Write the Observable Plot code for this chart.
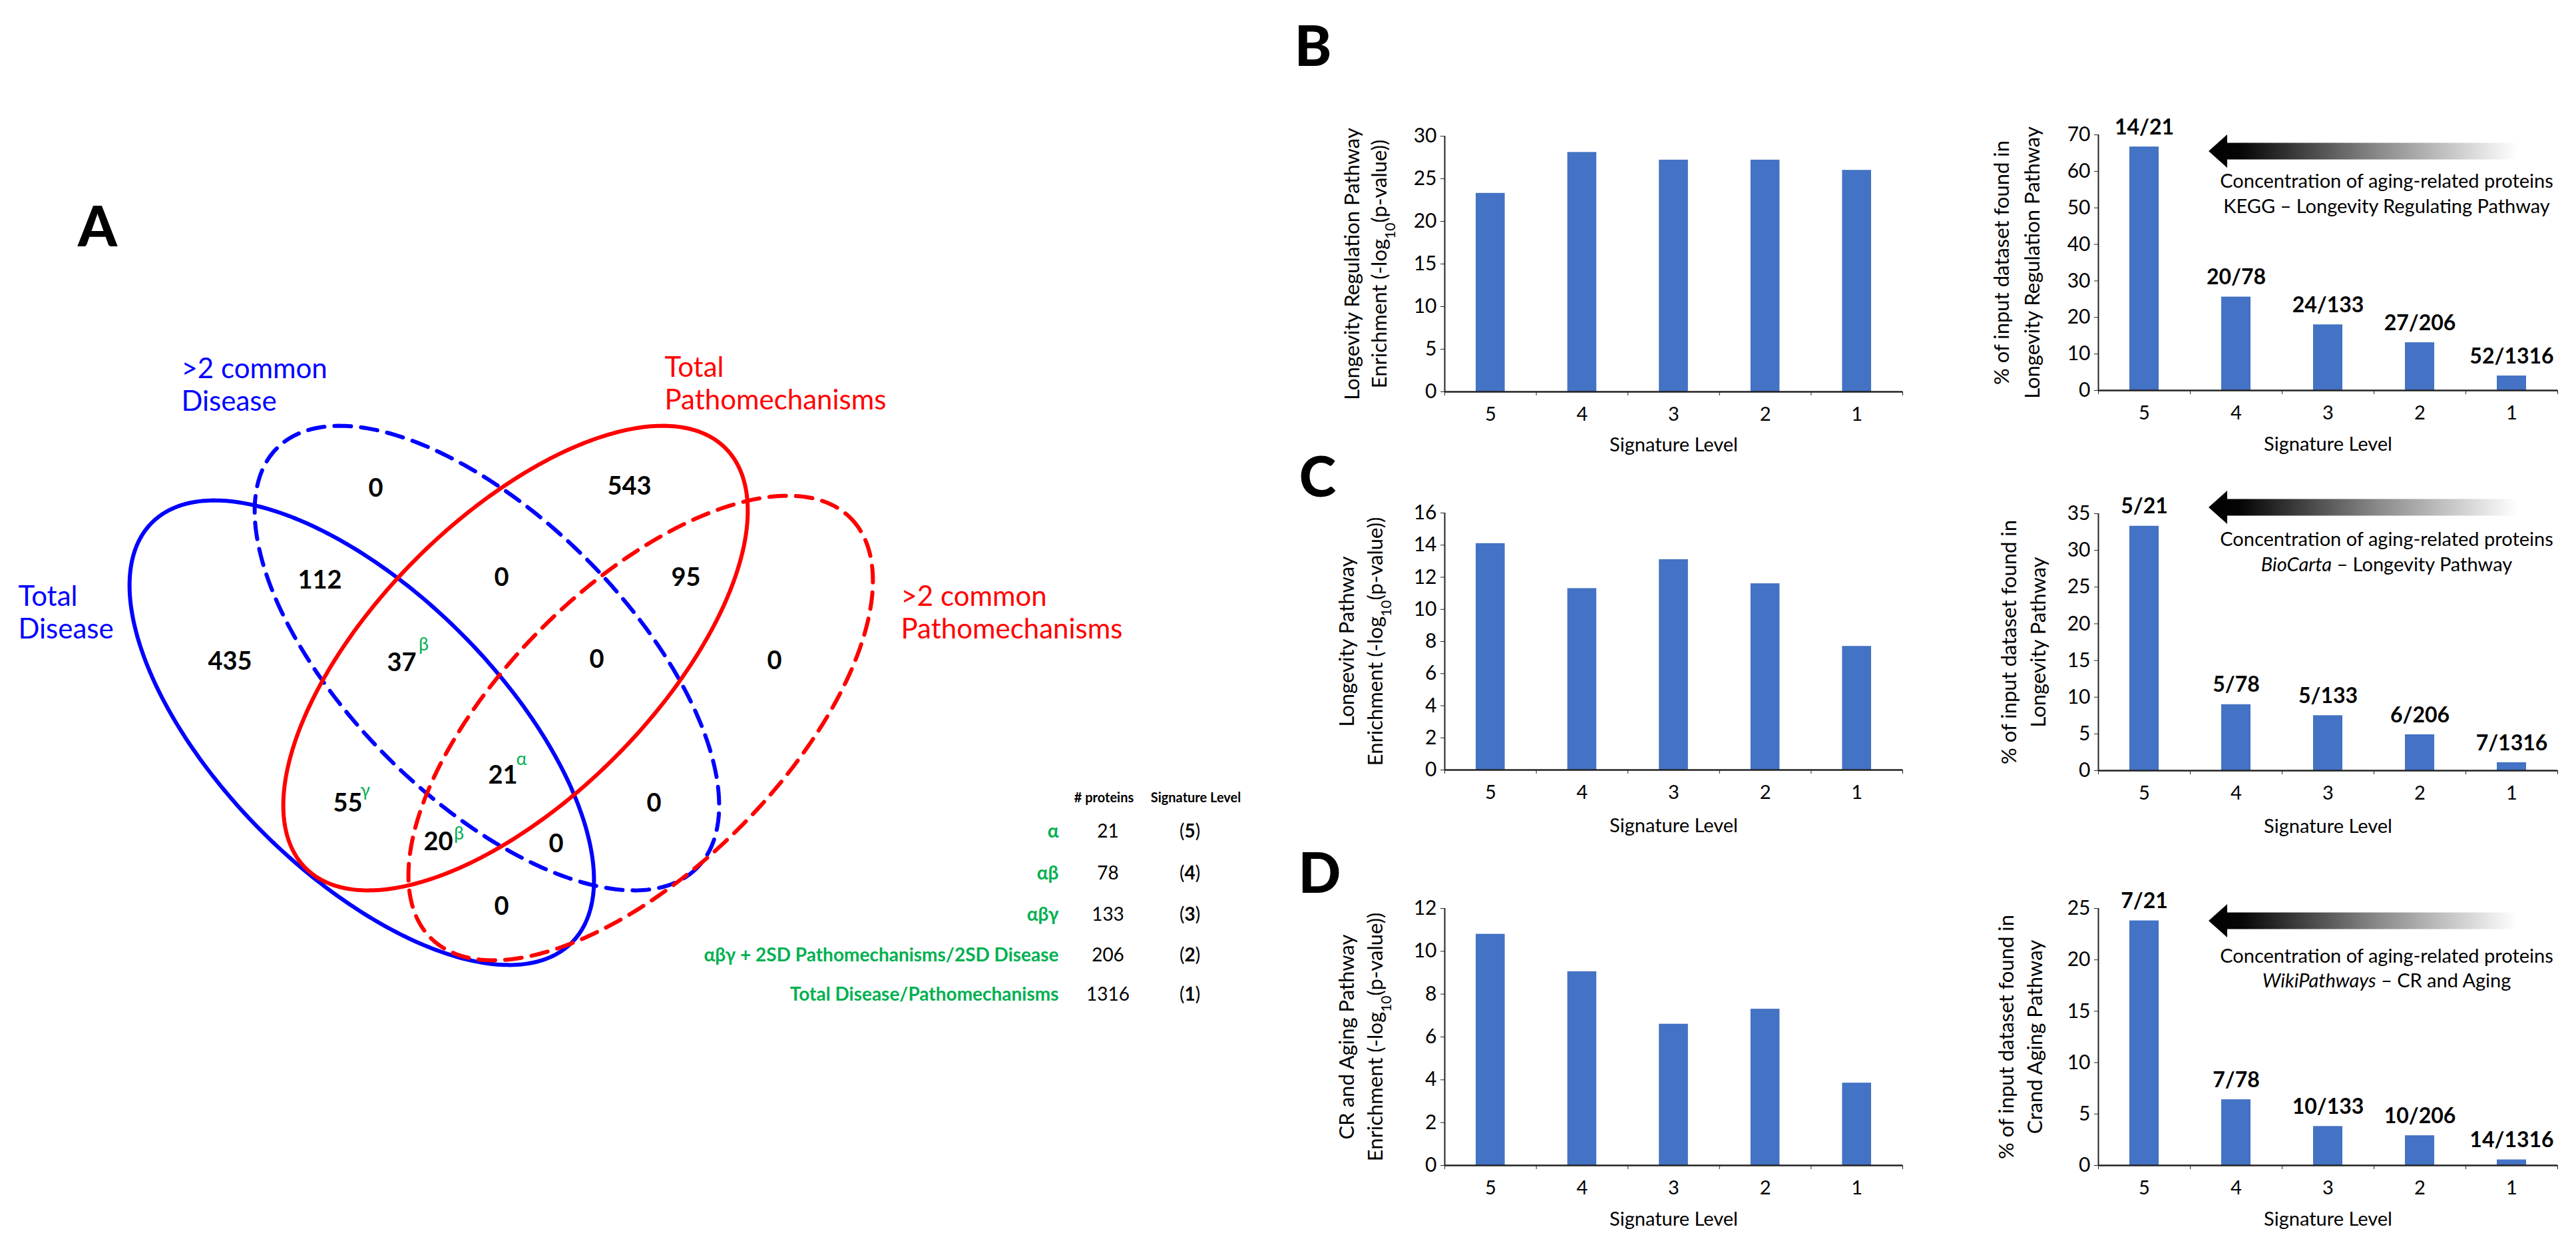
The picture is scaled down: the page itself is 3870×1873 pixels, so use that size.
<!DOCTYPE html>
<html><head><meta charset="utf-8">
<script src="https://cdn.jsdelivr.net/npm/d3@7"></script>
<script src="https://cdn.jsdelivr.net/npm/@observablehq/plot@0.6"></script>
<style>
html,body{margin:0;padding:0;background:#fff;}
#fig{position:relative;width:3870px;height:1873px;overflow:hidden;background:#fff;}
.panel{position:absolute;}
.panel svg{display:block;overflow:visible;}
</style></head><body><div id="fig"></div>
<script>
// ---------------- DATA ----------------
const levels = ["5", "4", "3", "2", "1"];

const bLeft = [23.3, 28.1, 27.2, 27.2, 26.0];
const bRight = [66.7, 25.6, 18.0, 13.1, 4.0];
const bRightLabels = ["14/21", "20/78", "24/133", "27/206", "52/1316"];

const cLeft = [14.1, 11.3, 13.1, 11.6, 7.7];
const cRight = [33.3, 9.0, 7.5, 4.9, 1.1];
const cRightLabels = ["5/21", "5/78", "5/133", "6/206", "7/1316"];

const dLeft = [10.8, 9.05, 6.6, 7.3, 3.85];
const dRight = [23.8, 6.4, 3.8, 2.9, 0.55];
const dRightLabels = ["7/21", "7/78", "10/133", "10/206", "14/1316"];

const bLeftTicks = [0, 5, 10, 15, 20, 25, 30];
const bRightTicks = [0, 10, 20, 30, 40, 50, 60, 70];
const cLeftTicks = [0, 2, 4, 6, 8, 10, 12, 14, 16];
const cRightTicks = [0, 5, 10, 15, 20, 25, 30, 35];
const dLeftTicks = [0, 2, 4, 6, 8, 10, 12];
const dRightTicks = [0, 5, 10, 15, 20, 25];

const bLeftTitle = ["Longevity Regulation Pathway", "Enrichment (-log10(p-value))"];
const bRightTitle = ["% of input dataset found in", "Longevity Regulation Pathway"];
const cLeftTitle = ["Longevity Pathway", "Enrichment (-log10(p-value))"];
const cRightTitle = ["% of input dataset found in", "Longevity Pathway"];
const dLeftTitle = ["CR and Aging Pathway", "Enrichment (-log10(p-value))"];
const dRightTitle = ["% of input dataset found in", "Crand Aging Pathway"];
const xTitle = "Signature Level";

const arrowCaption = "Concentration of aging-related proteins";
const pathwaySources = ["KEGG – Longevity Regulating Pathway", "BioCarta – Longevity Pathway", "WikiPathways – CR and Aging"];

// Venn
const vennSetNames = [["Total", "Disease"], [">2 common", "Disease"], ["Total", "Pathomechanisms"], [">2 common", "Pathomechanisms"]];
const vennCounts = [0, 543, 112, 0, 95, 435, 37, 0, 0, 21, 55, 0, 20, 0, 0];
const vennTags = ["", "", "", "", "", "", "β", "", "", "α", "γ", "", "β", "", ""];

// Legend table
const legendHeaders = ["# proteins", "Signature Level"];
const legendLabels = ["α", "αβ", "αβγ", "αβγ + 2SD Pathomechanisms/2SD Disease", "Total Disease/Pathomechanisms"];
const legendCounts = [21, 78, 133, 206, 1316];
const legendLevels = [5, 4, 3, 2, 1];

const panelLetters = ["A", "B", "C", "D"];

// ---------------- LAYOUT ----------------
const BLUE = "#0000ff", RED = "#ff0000", GREEN = "#00b050", BAR = "#4472C4", AX = "#222222";
const FONT = "Lato, 'Open Sans', sans-serif";
const ELL_A = 446, ELL_B = 211;
const vennEllipses = [
  {cx: 543, cy: 1100, angle: 45, color: BLUE, dash: null},
  {cx: 731, cy: 988, angle: 45, color: BLUE, dash: "25,15"},
  {cx: 774, cy: 988, angle: -45, color: RED, dash: null},
  {cx: 962, cy: 1093, angle: -45, color: RED, dash: "25,15"}
];
const vennCountPos = [[564,733],[945,730],[480,871],[753,867],[1030,867],[345,993],[603,995],[896,990],[1163,992],[755,1164],[522,1206],[982,1206],[658,1264],[835,1267],[753,1361]];
const vennTagPos = [null,null,null,null,null,null,[636,968],null,null,[783,1140],[548,1187],null,[689,1252],null,null];
const vennSetLabelPos = [[27,896],[272,554],[998,552],[1353,896]];
const letterPos = [[146,343],[1972,72],[1979,719],[1982,1314]];
const legendRowY = [1249, 1312, 1374, 1435, 1494];

// ---------------- HELPERS ----------------
const fig = document.getElementById("fig");
function esc(s) { return s.replace(/&/g,"&amp;").replace(/</g,"&lt;").replace(/>/g,"&gt;"); }
function enrich(svg) {
  svg.querySelectorAll("text").forEach(el => {
    if (el.children.length) return;
    const t = el.textContent;
    let h = null;
    if (t.includes("log10")) h = esc(t).replace("log10", 'log<tspan baseline-shift="sub" font-size="68%">10</tspan>');
    else if (/^\(\d\)$/.test(t)) h = `(<tspan font-weight="bold">${t[1]}</tspan>)`;
    else for (const w of ["BioCarta", "WikiPathways"]) if (t.startsWith(w)) h = `<tspan font-style="italic">${w}</tspan>` + esc(t.slice(w.length));
    if (h) el.innerHTML = h;
  });
}
function place(svg, left, top) {
  const div = document.createElement("div");
  div.className = "panel";
  div.style.left = left + "px";
  div.style.top = top + "px";
  div.appendChild(svg);
  fig.appendChild(div);
  enrich(svg);
}
function ellipsePts(e) {
  const th = e.angle * Math.PI / 180;
  return d3.range(0, 360, 1).map(deg => {
    const t = deg * Math.PI / 180;
    return {x: e.cx + ELL_A * Math.cos(t) * Math.cos(th) - ELL_B * Math.sin(t) * Math.sin(th),
            y: e.cy + ELL_A * Math.cos(t) * Math.sin(th) + ELL_B * Math.sin(t) * Math.cos(th)};
  });
}

// ---------------- BASE (Venn + legend + letters) ----------------
const countData = vennCounts.map((c, i) => ({c, x: vennCountPos[i][0], y: vennCountPos[i][1]}));
const tagData = vennTags.map((t, i) => ({t, p: vennTagPos[i]})).filter(d => d.t);
const setLabelData = [];
vennSetNames.forEach((lines, i) => lines.forEach((s, j) => setLabelData.push({s, set: i, x: vennSetLabelPos[i][0], y: vennSetLabelPos[i][1] + j * 49})));

const baseMarks = [];
vennEllipses.forEach(e => {
  baseMarks.push(Plot.line(ellipsePts(e), {x: "x", y: "y", curve: "linear-closed", stroke: e.color, strokeWidth: 6, strokeDasharray: e.dash || undefined}));
});
baseMarks.push(
  Plot.text(countData, {x: "x", y: "y", text: d => String(d.c), fontWeight: "bold", fontSize: 38, lineAnchor: "middle", fill: "black"}),
  Plot.text(tagData, {x: d => d.p[0], y: d => d.p[1], text: "t", fontSize: 27, lineAnchor: "middle", fill: GREEN}),
  Plot.text(setLabelData.filter(d => d.set < 2), {x: "x", y: "y", text: "s", textAnchor: "start", lineAnchor: "middle", fontSize: 42, fill: BLUE}),
  Plot.text(setLabelData.filter(d => d.set >= 2), {x: "x", y: "y", text: "s", textAnchor: "start", lineAnchor: "middle", fontSize: 42, fill: RED}),
  Plot.text(panelLetters.map((l, i) => ({l, x: letterPos[i][0], y: letterPos[i][1]})), {x: "x", y: "y", text: "l", fontWeight: 900, fontSize: 84, lineAnchor: "middle", fill: "black"}),
  Plot.text(legendHeaders.map((h, i) => ({h, x: [1658, 1796][i]})), {x: "x", y: () => 1198, text: "h", fontWeight: "bold", fontSize: 20, lineAnchor: "middle"}),
  Plot.text(legendLabels.map((l, i) => ({l, y: legendRowY[i]})), {x: () => 1590, y: "y", text: "l", textAnchor: "end", lineAnchor: "middle", fontWeight: "bold", fontSize: 28, fill: GREEN}),
  Plot.text(legendCounts.map((c, i) => ({c, y: legendRowY[i]})), {x: () => 1664, y: "y", text: d => String(d.c), lineAnchor: "middle", fontSize: 28}),
  Plot.text(legendLevels.map((c, i) => ({c, y: legendRowY[i]})), {x: () => 1787, y: "y", text: d => `(${d.c})`, lineAnchor: "middle", fontSize: 28})
);
const base = Plot.plot({
  width: 3870, height: 1873, margin: 0,
  x: {domain: [0, 3870], range: [0, 3870], axis: null},
  y: {domain: [0, 1873], range: [0, 1873], axis: null},
  style: {background: "white", fontFamily: FONT, color: "black"},
  marks: baseMarks
});
place(base, 0, 0);

// ---------------- BAR CHARTS ----------------
function barChart(o) {
  const data = levels.map((lv, i) => ({lv, i, v: o.values[i], lab: o.labels ? o.labels[i] : ""}));
  const yMax = o.ticks[o.ticks.length - 1];
  const marks = [
    Plot.rect(data, {x1: d => d.i, x2: d => d.i + 1, y1: () => 0, y2: "v", fill: BAR, insetLeft: 47, insetRight: 47}),
    Plot.ruleX([0], {x: () => 0, y1: () => 0, y2: () => yMax, stroke: AX, strokeWidth: 2}),
    Plot.ruleY([0], {y: () => 0, x1: () => 0, x2: () => 5, stroke: AX, strokeWidth: 2.5}),
    Plot.axisY({ticks: o.ticks, tickSize: 6, tickPadding: 6, fontSize: 30, stroke: AX, label: null, tickFormat: d => String(d)}),
    Plot.axisX({ticks: [0, 1, 2, 3, 4, 5], tickSize: 6, tickFormat: () => "", stroke: AX, label: null}),
    Plot.axisX({ticks: [0.5, 1.5, 2.5, 3.5, 4.5], tickSize: 0, tickPadding: 23, fontSize: 29, label: null, tickFormat: d => levels[Math.floor(d)]}),
    Plot.text([xTitle], {frameAnchor: "bottom", dy: o.xTitleDy, fontSize: 29, textAnchor: "middle", lineAnchor: "middle"}),
    Plot.text([o.title[0]], {frameAnchor: "left", rotate: -90, dx: o.titleDx[0], fontSize: 31, textAnchor: "middle", lineAnchor: "middle"}),
    Plot.text([o.title[1]], {frameAnchor: "left", rotate: -90, dx: o.titleDx[1], fontSize: 31, textAnchor: "middle", lineAnchor: "middle"})
  ];
  if (o.labels) {
    marks.push(Plot.text(data, {x: d => d.i + 0.5, y: "v", text: "lab", dy: -29, lineAnchor: "middle", fontWeight: "bold", fontSize: 32}));
  }
  if (o.source) {
    marks.push(
      Plot.text([arrowCaption], {frameAnchor: "top-left", dx: 433, dy: o.capY[0] - o.marginTop, textAnchor: "middle", lineAnchor: "middle", fontSize: 29}),
      Plot.text([o.source], {frameAnchor: "top-left", dx: 433, dy: o.capY[1] - o.marginTop, textAnchor: "middle", lineAnchor: "middle", fontSize: 29})
    );
  }
  const svg = Plot.plot({
    width: o.width, height: o.marginTop + o.frameH + o.marginBottom,
    marginLeft: o.marginLeft, marginRight: o.marginRight, marginTop: o.marginTop, marginBottom: o.marginBottom,
    x: {domain: [0, 5]},
    y: {domain: [0, yMax]},
    style: {background: "transparent", fontFamily: FONT, color: "black"},
    marks
  });
  if (o.arrowY != null) {
    const s = d3.select(svg);
    const gid = "grad" + o.id;
    const tip = 368, base = 396, tail = 832, y = o.arrowY;
    const g = s.insert("defs", ":first-child").append("linearGradient").attr("id", gid)
      .attr("gradientUnits", "userSpaceOnUse").attr("x1", tip).attr("x2", tail).attr("y1", 0).attr("y2", 0);
    g.append("stop").attr("offset", "0").attr("stop-color", "#000");
    g.append("stop").attr("offset", "0.1").attr("stop-color", "#050505");
    g.append("stop").attr("offset", "0.55").attr("stop-color", "#8a8a8a");
    g.append("stop").attr("offset", "1").attr("stop-color", "#ffffff");
    s.append("path")
      .attr("d", `M${tip},${y} L${base},${y - 25} L${base},${y - 12.5} L${tail},${y - 12.5} L${tail},${y + 12.5} L${base},${y + 12.5} L${base},${y + 25} Z`)
      .attr("fill", `url(#${gid})`);
  }
  place(svg, o.left, o.top);
}

const leftCol = {left: 1960, width: 928, marginLeft: 210, marginRight: 30};
const rightCol = {left: 2950, width: 912, marginLeft: 202, marginRight: 20};

barChart({...leftCol, id: "bl", top: 150, marginTop: 54, frameH: 384, marginBottom: 100, values: bLeft, ticks: bLeftTicks, title: bLeftTitle, titleDx: [-138, -97], xTitleDy: 80});
barChart({...rightCol, id: "br", top: 150, marginTop: 52, frameH: 384, marginBottom: 100, values: bRight, labels: bRightLabels, ticks: bRightTicks, title: bRightTitle, titleDx: [-144, -98], xTitleDy: 81, source: pathwaySources[0], capY: [122, 160], arrowY: 77});

barChart({...leftCol, id: "cl", top: 700, marginTop: 70, frameH: 386, marginBottom: 105, values: cLeft, ticks: cLeftTicks, title: cLeftTitle, titleDx: [-146, -103], xTitleDy: 84});
barChart({...rightCol, id: "cr", top: 700, marginTop: 71, frameH: 386, marginBottom: 105, values: cRight, labels: cRightLabels, ticks: cRightTicks, title: cRightTitle, titleDx: [-133, -89], xTitleDy: 84, source: pathwaySources[1], capY: [110, 148], arrowY: 62});

barChart({...leftCol, id: "dl", top: 1290, marginTop: 74, frameH: 386, marginBottom: 110, values: dLeft, ticks: dLeftTicks, title: dLeftTitle, titleDx: [-146, -103], xTitleDy: 81});
barChart({...rightCol, id: "dr", top: 1290, marginTop: 74, frameH: 386, marginBottom: 110, values: dRight, labels: dRightLabels, ticks: dRightTicks, title: dRightTitle, titleDx: [-137, -94], xTitleDy: 81, source: pathwaySources[2], capY: [146, 183], arrowY: 93});
</script>
</body></html>
